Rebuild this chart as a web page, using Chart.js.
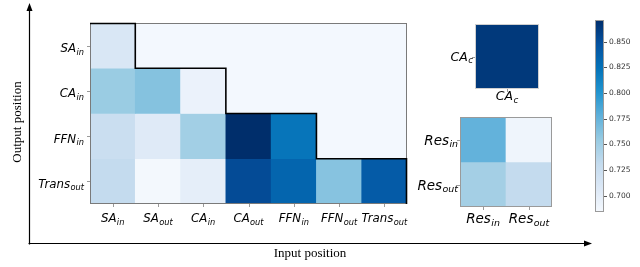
<!DOCTYPE html>
<html><head><meta charset="utf-8">
<script src="https://cdn.jsdelivr.net/npm/chart.js@4.4.1/dist/chart.umd.min.js"></script>
<style>
html,body{margin:0;padding:0;background:#fff;}
#wrap{position:relative;width:640px;height:267px;overflow:hidden;background:#fff;}
#wrap canvas{position:absolute;left:0;top:0;}
</style></head><body>
<div id="wrap">
<canvas id="cAxes" width="640" height="267"></canvas>
<canvas id="cMain" width="640" height="267"></canvas>
<canvas id="cCac" width="640" height="267"></canvas>
<canvas id="cRes" width="640" height="267"></canvas>
<canvas id="cBar" width="640" height="267"></canvas>
</div>
<script>
// ---------------- data ----------------
const mainInputs  = [['SA','in'],['SA','out'],['CA','in'],['CA','out'],['FFN','in'],['FFN','out'],['Trans','out']];
const mainOutputs = [['SA','in'],['CA','in'],['FFN','in'],['Trans','out']];
const rowSAin     = [0.710, null,  null,  null,  null,  null,  null ];
const rowCAin     = [0.753, 0.762, 0.693, null,  null,  null,  null ];
const rowFFNin    = [0.725, 0.705, 0.749, 0.871, 0.822, null,  null ];
const rowTransout = [0.731, 0.686, 0.699, 0.852, 0.834, 0.761, 0.841];
const cacLabels   = [['CA','c']];
const rowCAc      = [0.864];
const resLabels   = [['Res','in'],['Res','out']];
const rowResIn    = [0.776, 0.690];
const rowResOut   = [0.748, 0.731];
const colorbarMin = 0.684, colorbarMax = 0.871;
const colorbarTicks = [0.700,0.725,0.750,0.775,0.800,0.825,0.850];
const xAxisTitle = 'Input position';
const yAxisTitle = 'Output position';

// ---------------- styling ----------------
const W = 640, H = 267;
const BLUES = ['#f5f9fe','#dce8f6','#c4dbee','#98cbe2','#5fb0da','#2194cf','#0472b8','#0552a0','#002e6b'];
const MASK_COLOR = '#f3f8fe';
const MATH_FONT = '"DejaVu Sans", sans-serif';
function hex2rgb(h){return [parseInt(h.slice(1,3),16),parseInt(h.slice(3,5),16),parseInt(h.slice(5,7),16)];}
function cmap(v){
  let t=(v-colorbarMin)/(colorbarMax-colorbarMin); t=Math.max(0,Math.min(1,t));
  const s=t*(BLUES.length-1); const i=Math.min(Math.floor(s),BLUES.length-2); const f=s-i;
  const a=hex2rgb(BLUES[i]), b=hex2rgb(BLUES[i+1]);
  return 'rgb('+a.map((x,k)=>Math.round(x+(b[k]-x)*f)).join(',')+')';
}
function mathWidth(ctx, lab, size){
  ctx.font='italic '+size+'px '+MATH_FONT; const w1=ctx.measureText(lab[0]).width;
  ctx.font='italic '+(size*0.7)+'px '+MATH_FONT; const w2=ctx.measureText(lab[1]).width;
  return w1+w2+size*0.03;
}
function drawMath(ctx, lab, x, baseline, size, align){
  const w=mathWidth(ctx, lab, size);
  let x0 = align==='right' ? x-w : align==='center' ? x-w/2 : x;
  ctx.fillStyle='#000'; ctx.textAlign='left'; ctx.textBaseline='alphabetic';
  ctx.font='italic '+size+'px '+MATH_FONT; ctx.fillText(lab[0], x0, baseline);
  const w1=ctx.measureText(lab[0]).width;
  ctx.font='italic '+(size*0.7)+'px '+MATH_FONT; ctx.fillText(lab[1], x0+w1+size*0.03, baseline+size*0.22);
}

function heatmap(id, area, cols, rowLabels, rows, o){
  const datasets = rows.map((vals, r) => ({
    data: vals.map(v => v==null ? null : [r, r+1]),
    backgroundColor: vals.map(v => v==null ? 'rgba(0,0,0,0)' : cmap(v)),
    grouped:false, barPercentage:1, categoryPercentage:1, borderWidth:0, borderSkipped:false
  }));
  const deco = {
    id:'deco'+id,
    beforeDatasetsDraw(chart){
      const ctx=chart.ctx, ca=chart.chartArea;
      ctx.save(); ctx.fillStyle=MASK_COLOR; ctx.fillRect(ca.left,ca.top,ca.right-ca.left,ca.bottom-ca.top); ctx.restore();
    },
    afterDatasetsDraw(chart){
      const ctx=chart.ctx, ca=chart.chartArea, xs=chart.scales.x, ys=chart.scales.y;
      ctx.save();
      ctx.strokeStyle=o.border; ctx.lineWidth=1;
      ctx.strokeRect(ca.left+0.5,ca.top+0.5,ca.right-ca.left-1,ca.bottom-ca.top-1);
      const half=(xs.getPixelForValue(1)-xs.getPixelForValue(0))/2;
      if(o.staircase){
        const last = rows.map(vals => { let c=-1; vals.forEach((v,i)=>{ if(v!=null) c=i; }); return c; });
        const xb = c => c>=cols.length ? ca.right-0.5 : xs.getPixelForValue(c)-half;
        const yb = r => ys.getPixelForValue(r);
        ctx.strokeStyle='#000'; ctx.lineWidth=1.6; ctx.beginPath();
        ctx.moveTo(xb(0), yb(0)+0.5); ctx.lineTo(xb(last[0]+1), yb(0)+0.5);
        for(let r=0;r<rows.length;r++){
          ctx.lineTo(xb(last[r]+1), yb(r+1));
          if(r+1<rows.length) ctx.lineTo(xb(last[r+1]+1), yb(r+1));
        }
        ctx.stroke();
      }
      // ticks
      ctx.strokeStyle='#9a9a9a'; ctx.lineWidth=1; ctx.beginPath();
      cols.forEach((c,i)=>{ const x=Math.round(xs.getPixelForValue(i))+0.5; ctx.moveTo(x,ca.bottom); ctx.lineTo(x,ca.bottom+3); });
      rowLabels.forEach((c,r)=>{ const y=Math.round(ys.getPixelForValue(r+0.5))+0.5; ctx.moveTo(ca.left,y); ctx.lineTo(ca.left-3,y); });
      ctx.stroke();
      // labels
      cols.forEach((c,i)=> drawMath(ctx, c, xs.getPixelForValue(i), ca.bottom+o.xBase, o.size, 'center'));
      rowLabels.forEach((c,r)=> drawMath(ctx, c, ca.left-o.yPad, ys.getPixelForValue(r+0.5)+o.yBase, o.size, 'right'));
      ctx.restore();
    }
  };
  return new Chart(document.getElementById(id), {
    type:'bar',
    data:{ labels: cols.map(c=>c[0]+'_'+c[1]), datasets },
    options:{
      responsive:false, animation:false, events:[],
      layout:{ padding:{ left:area.l, top:area.t, right:W-area.r, bottom:H-area.b } },
      plugins:{ legend:{display:false}, tooltip:{enabled:false} },
      scales:{ x:{display:false}, y:{display:false, min:0, max:rows.length, reverse:true} }
    },
    plugins:[deco]
  });
}

heatmap('cMain', {l:90,t:23,r:407,b:204}, mainInputs, mainOutputs,
        [rowSAin,rowCAin,rowFFNin,rowTransout], {staircase:true, border:'#7a7a7a', size:11.8, xBase:18, yPad:6, yBase:6.5});
heatmap('cCac', {l:475,t:24,r:539,b:89}, cacLabels, cacLabels, [rowCAc], {border:'#d0d0d0', size:12.5, xBase:11, yPad:2, yBase:4});
heatmap('cRes', {l:460,t:117,r:552,b:207}, resLabels, resLabels, [rowResIn,rowResOut], {border:'#9a9a9a', size:13.5, xBase:16, yPad:2, yBase:5});

// colorbar
new Chart(document.getElementById('cBar'), {
  type:'bar',
  data:{ labels:['colorbar'], datasets:[{
    data:[[colorbarMin,colorbarMax]], barPercentage:1, categoryPercentage:1, borderWidth:0, borderSkipped:false,
    backgroundColor:(c)=>{ const ca=c.chart.chartArea; if(!ca) return BLUES[0];
      const g=c.chart.ctx.createLinearGradient(0,ca.bottom,0,ca.top);
      BLUES.forEach((col,i)=>g.addColorStop(i/(BLUES.length-1),col)); return g; }
  }]},
  options:{
    responsive:false, animation:false, events:[],
    layout:{ padding:{ left:595, top:20, right:W-604, bottom:H-212 } },
    plugins:{ legend:{display:false}, tooltip:{enabled:false} },
    scales:{ x:{display:false}, y:{display:false, min:colorbarMin, max:colorbarMax} }
  },
  plugins:[{ id:'cbdeco', afterDatasetsDraw(chart){
    const ctx=chart.ctx, ca=chart.chartArea, ys=chart.scales.y;
    ctx.save();
    ctx.strokeStyle='#9a9a9a'; ctx.lineWidth=1;
    ctx.strokeRect(ca.left+0.5,ca.top+0.5,ca.right-ca.left-1,ca.bottom-ca.top-1);
    ctx.strokeStyle='#555'; ctx.beginPath();
    colorbarTicks.forEach(t=>{ const y=Math.round(ys.getPixelForValue(t))+0.5; ctx.moveTo(ca.right,y); ctx.lineTo(ca.right+3,y); });
    ctx.stroke();
    ctx.fillStyle='#333'; ctx.font='7.5px '+MATH_FONT; ctx.textAlign='left'; ctx.textBaseline='middle';
    colorbarTicks.forEach(t=> ctx.fillText(t.toFixed(3), ca.right+5, ys.getPixelForValue(t)));
    ctx.restore();
  }}]
});

// outer axes with arrows
new Chart(document.getElementById('cAxes'), {
  type:'scatter', data:{datasets:[]},
  options:{
    responsive:false, animation:false, events:[],
    layout:{ padding:{ left:29, top:3, right:W-592, bottom:H-243 } },
    plugins:{ legend:{display:false}, tooltip:{enabled:false} },
    scales:{ x:{display:false,min:0,max:1}, y:{display:false,min:0,max:1} }
  },
  plugins:[{ id:'axes', afterDraw(chart){
    const ctx=chart.ctx, ca=chart.chartArea;
    const x0=ca.left+0.5, y0=ca.bottom+0.5;
    ctx.save(); ctx.strokeStyle='#000'; ctx.fillStyle='#000'; ctx.lineWidth=1.2;
    ctx.beginPath(); ctx.moveTo(x0,y0+1); ctx.lineTo(x0,ca.top+6); ctx.moveTo(x0-1,y0); ctx.lineTo(ca.right-6,y0); ctx.stroke();
    ctx.beginPath(); ctx.moveTo(x0,ca.top); ctx.lineTo(x0-3,ca.top+8); ctx.lineTo(x0+3,ca.top+8); ctx.closePath(); ctx.fill();
    ctx.beginPath(); ctx.moveTo(ca.right,y0); ctx.lineTo(ca.right-8,y0-3); ctx.lineTo(ca.right-8,y0+3); ctx.closePath(); ctx.fill();
    ctx.font='13px "Liberation Serif", serif'; ctx.textAlign='center'; ctx.textBaseline='middle';
    ctx.fillText(xAxisTitle, 310, ca.bottom+11);
    ctx.translate(18,122); ctx.rotate(-Math.PI/2); ctx.fillText(yAxisTitle,0,0);
    ctx.restore();
  }}]
});
</script>
</body></html>
